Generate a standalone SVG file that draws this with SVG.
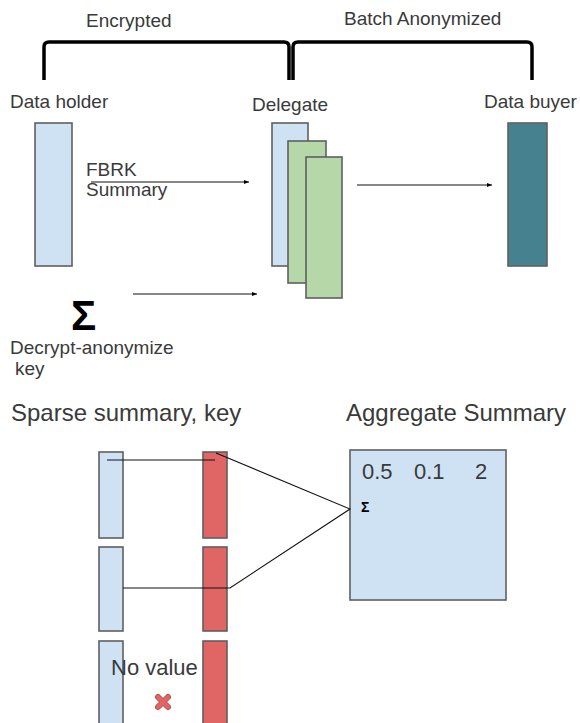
<svg xmlns="http://www.w3.org/2000/svg" width="580" height="723" viewBox="0 0 580 723">
<defs>
<marker id="ah" markerWidth="6" markerHeight="6" refX="5" refY="3" orient="auto" markerUnits="userSpaceOnUse">
<path d="M0,1 L5,3 L0,5 Z" fill="#000"/>
</marker>
<style>
text{font-family:"Liberation Sans",Arial,sans-serif;fill:#3a3a3a;}
.lbl{font-size:19px;}
.big{font-size:24px;}
.box{stroke:#5f5f5f;stroke-width:1.6;}
.blue{fill:#cfe2f3;}
.green{fill:#b6d7a8;}
.red{fill:#e06666;}
.teal{fill:#45818e;}
.brace{fill:none;stroke:#000;stroke-width:3.5;stroke-linejoin:round;}
.conn{stroke:#111;stroke-width:1.1;fill:none;}
</style>
</defs>
<rect width="580" height="723" fill="#fff"/>

<g id="braces">
<path class="brace" d="M44,80 L44,47 Q44,42 49,42 L284,42 Q289,42 289,47 L289,80"/>
<path class="brace" d="M293,80 L293,47 Q293,42 298,42 L527,42 Q532,42 532,47 L532,80"/>
<text class="lbl" x="86" y="27">Encrypted</text>
<text class="lbl" x="344" y="25">Batch Anonymized</text>
</g>

<g id="data-holder">
<text class="lbl" x="10" y="108">Data holder</text>
<rect class="box blue" x="35" y="123" width="37" height="143"/>
</g>

<g id="delegate">
<text class="lbl" x="252" y="111">Delegate</text>
<rect class="box blue" x="272" y="123" width="36" height="143"/>
<rect class="box green" x="288" y="141" width="38" height="142"/>
<rect class="box green" x="306" y="157" width="36" height="141"/>
</g>

<g id="data-buyer">
<text class="lbl" x="484" y="108">Data buyer</text>
<rect class="box teal" x="508" y="123" width="39" height="143"/>
</g>

<g id="fbrk-label">
<text class="lbl" x="86" y="176">FBRK</text>
<text class="lbl" x="86" y="196">Summary</text>
</g>

<g id="key-source">
<text x="71" y="330" style="font-size:42px;font-weight:bold;fill:#000">Σ</text>
<text class="lbl" x="10" y="354">Decrypt-anonymize</text>
<text class="lbl" x="15" y="375">key</text>
</g>

<g id="sparse-summary">
<text class="big" x="11" y="421">Sparse summary, key</text>
<rect class="box blue" x="99" y="452" width="24" height="86"/>
<rect class="box blue" x="99" y="547" width="24" height="84"/>
<rect class="box blue" x="99" y="641" width="24" height="90"/>
<rect class="box red" x="203" y="452" width="24" height="86"/>
<rect class="box red" x="203" y="547" width="24" height="84"/>
<rect class="box red" x="203" y="641" width="24" height="90"/>
<text x="111" y="675" style="font-size:22px">No value</text>
<g id="no-value-mark" stroke-linecap="round">
<path d="M158,697 L168,707 M168,697 L158,707" stroke="#c0504d" stroke-width="6"/>
<path d="M158,697 L168,707 M168,697 L158,707" stroke="#e06666" stroke-width="4"/>
</g>
</g>

<g id="aggregate-summary">
<text class="big" x="346" y="421">Aggregate Summary</text>
<rect class="box blue" x="350" y="450" width="156" height="150"/>
<text x="362" y="479" style="font-size:22px">0.5</text>
<text x="414" y="479" style="font-size:22px">0.1</text>
<text x="475" y="479" style="font-size:22px">2</text>
<text x="361" y="512" style="font-size:14px;font-weight:bold;fill:#000">Σ</text>
</g>

<g id="connectors">
<line class="conn" x1="91" y1="182" x2="249" y2="182" marker-end="url(#ah)"/>
<line class="conn" x1="133" y1="294" x2="257" y2="294" marker-end="url(#ah)"/>
<line class="conn" x1="357" y1="185" x2="492" y2="185" marker-end="url(#ah)"/>
<polyline class="conn" points="107,460 215,460"/>
<polyline class="conn" points="216,453 350,509 230,588 123,588"/>
</g>
</svg>
